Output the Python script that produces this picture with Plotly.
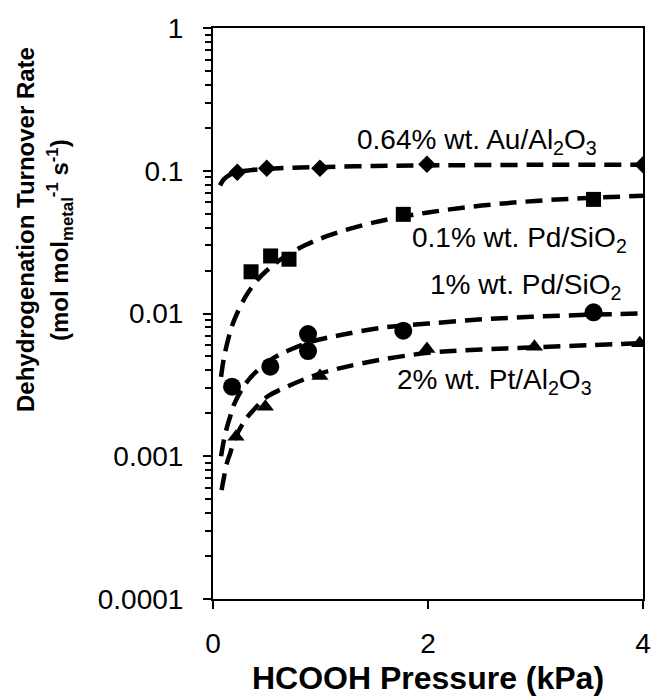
import plotly.graph_objects as go

au_x = [0.226, 0.5, 0.995, 1.99, 4.0]
au_y = [0.0975, 0.104, 0.104, 0.111, 0.110]

pd01_x = [0.354, 0.536, 0.707, 1.77, 3.54]
pd01_y = [0.0196, 0.0253, 0.0240, 0.0495, 0.063]

pd1_x = [0.177, 0.533, 0.884, 0.884, 1.77, 3.54]
pd1_y = [0.00307, 0.00424, 0.00718, 0.00546, 0.00758, 0.0102]

pt_x = [0.214, 0.487, 0.995, 1.99, 2.99, 3.97]
pt_y = [0.00137, 0.00222, 0.00365, 0.00564, 0.00585, 0.00618]

# ---- fitted (dashed) curves ----
au_fit_x = [0.065, 0.1, 0.15, 0.226, 0.35, 0.5, 0.75, 1.0, 1.5, 2.0, 3.0, 4.0]
au_fit_y = [0.079, 0.087, 0.093, 0.098, 0.101, 0.103, 0.105, 0.106, 0.108, 0.109, 0.110, 0.110]

pd01_fit_x = [0.075, 0.1, 0.15, 0.2, 0.3, 0.4, 0.5, 0.65, 0.85, 1.1, 1.5, 2.0, 2.5, 3.0, 3.5, 4.0]
pd01_fit_y = [0.0036, 0.0048, 0.0070, 0.0091, 0.0130, 0.0167, 0.0200, 0.0245, 0.0299, 0.0357, 0.0435, 0.0510, 0.0570, 0.0615, 0.0645, 0.0668]

pd1_fit_x = [0.075, 0.1, 0.13, 0.16, 0.2, 0.3, 0.4, 0.55, 0.7, 0.9, 1.2, 1.6, 2.0, 2.5, 3.0, 3.5, 4.0]
pd1_fit_y = [0.0010, 0.00128, 0.0016, 0.0019, 0.00235, 0.0032, 0.0039, 0.0048, 0.0055, 0.0063, 0.0071, 0.0080, 0.0085, 0.0091, 0.0095, 0.0098, 0.0100]

pt_fit_x = [0.08, 0.1, 0.13, 0.16, 0.2, 0.3, 0.4, 0.5, 0.7, 1.0, 1.4, 2.0, 2.5, 3.0, 3.5, 4.0]
pt_fit_y = [0.00058, 0.0007, 0.0009, 0.00105, 0.0013, 0.0018, 0.0022, 0.0026, 0.0031, 0.0038, 0.0045, 0.0053, 0.0056, 0.0058, 0.0060, 0.0062]

labels = ["0.64% wt. Au/Al<sub>2</sub>O<sub>3</sub>",
          "0.1% wt. Pd/SiO<sub>2</sub>",
          "1% wt. Pd/SiO<sub>2</sub>",
          "2% wt. Pt/Al<sub>2</sub>O<sub>3</sub>"]

y_tickvals = [0.0001, 0.001, 0.01, 0.1, 1]
y_ticktext = ["0.0001", "0.001", "0.01", "0.1", "1"]
x_tickvals = [0, 2, 4]

W, H = 651, 696
L, R, T, B = 213, 8, 28, 97
PW, PH = W - L - R, H - T - B

def px(xp):
    return (xp - L) / PW

def py(yp):
    return (H - B - yp) / PH

FONT = "Liberation Sans, Arial, sans-serif"
DASH = "17px,9px"

fig = go.Figure()

fits = [(au_fit_x, au_fit_y), (pd01_fit_x, pd01_fit_y), (pd1_fit_x, pd1_fit_y), (pt_fit_x, pt_fit_y)]
for fx, fy in fits:
    fig.add_trace(go.Scatter(x=fx, y=fy, mode="lines", line=dict(color="black", width=4.5, dash=DASH, shape="spline"),
                             hoverinfo="skip"))

series = [(au_x, au_y, "diamond", 13.5), (pd01_x, pd01_y, "square", 15),
          (pd1_x, pd1_y, "circle", 18), (pt_x, pt_y, "triangle-up", 15)]
for sx, sy, sym, sz in series:
    fig.add_trace(go.Scatter(x=sx, y=sy, mode="markers",
                             marker=dict(symbol=sym, size=sz, color="black", line=dict(width=0))))

ann = []
label_pos = [(355, 141), (410, 239), (428, 286), (395, 381)]
for text, (lx, ly) in zip(labels, label_pos):
    ann.append(dict(text=text, xref="paper", yref="paper", x=px(lx), y=py(ly),
                    xanchor="left", yanchor="middle", showarrow=False,
                    font=dict(family=FONT, size=28, color="black")))

ann.append(dict(text="<b>Dehydrogenation Turnover Rate</b>", xref="paper", yref="paper",
                x=px(25), y=py(230), xanchor="center", yanchor="middle", textangle=-90,
                showarrow=False, font=dict(family=FONT, size=24, color="black")))
ann.append(dict(text="<b>(mol mol<sub>metal</sub><sup>-1</sup> s<sup>-1</sup>)</b>", xref="paper", yref="paper",
                x=px(60), y=py(240), xanchor="center", yanchor="middle", textangle=-90,
                showarrow=False, font=dict(family=FONT, size=24, color="black")))

fig.update_layout(
    width=W, height=H,
    margin=dict(l=L, r=R, t=T, b=B, autoexpand=False),
    paper_bgcolor="white", plot_bgcolor="white",
    showlegend=False,
    annotations=ann,
    font=dict(family=FONT, color="black"),
)

fig.update_xaxes(range=[0, 4], tickvals=x_tickvals, ticks="outside", ticklen=8, tickwidth=2,
                 tickcolor="black", showline=True, linewidth=2, linecolor="black", mirror=True,
                 showgrid=False, zeroline=False, tickfont=dict(family=FONT, size=28, color="black"),
                 ticklabelstandoff=10,
                 title=dict(text="<b>HCOOH Pressure (kPa)</b>", font=dict(family=FONT, size=32, color="black"),
                            standoff=12))

fig.update_yaxes(type="log", range=[-4, 0], tickvals=y_tickvals, ticktext=y_ticktext, ticks="outside",
                 ticklen=8, tickwidth=2, tickcolor="black", showline=True, linewidth=2, linecolor="black",
                 mirror=True, showgrid=False, zeroline=False,
                 tickfont=dict(family=FONT, size=28, color="black"), ticklabelstandoff=14,
                 minor=dict(ticks="outside", ticklen=6, tickwidth=2, tickcolor="black", dtick="D1", showgrid=False))

fig.write_html("out.html")
